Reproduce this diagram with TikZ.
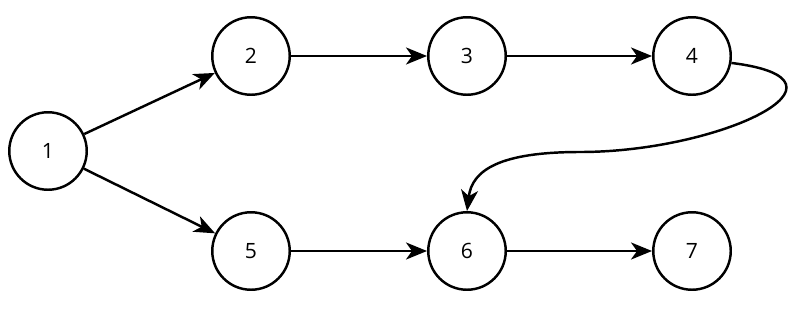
\documentclass[tikz,border=0pt]{standalone}
\usepackage{fontspec}
\setmainfont{Open Sans}
\usetikzlibrary{arrows.meta}

\begin{document}
\begin{tikzpicture}[
  x=0.02cm, y=-0.02cm,
  state/.style={draw, circle, line width=1.4pt, minimum size=1.55cm, inner sep=0pt, font=\large},
  arr/.style={line width=1.4pt, -{Stealth[length=4.2mm, width=3.4mm, inset=1.2mm]}}
]
\useasboundingbox (0,0) rectangle (800,308);
\node[state] (n1) at (48,151)  {1};
\node[state] (n2) at (251,56)  {2};
\node[state] (n3) at (467,56)  {3};
\node[state] (n4) at (692,56)  {4};
\node[state] (n5) at (251,251) {5};
\node[state] (n6) at (467,251) {6};
\node[state] (n7) at (692,251) {7};

\draw[arr] (n1) -- (n2);
\draw[arr] (n1) -- (n5);
\draw[arr] (n2) -- (n3);
\draw[arr] (n3) -- (n4);
\draw[arr] (n5) -- (n6);
\draw[arr] (n6) -- (n7);
\draw[arr] (n4.-10) .. controls (870,80) and (720,152) .. (580,152)
  .. controls (500,152) and (472,170) .. (n6.north);
\end{tikzpicture}
\end{document}
